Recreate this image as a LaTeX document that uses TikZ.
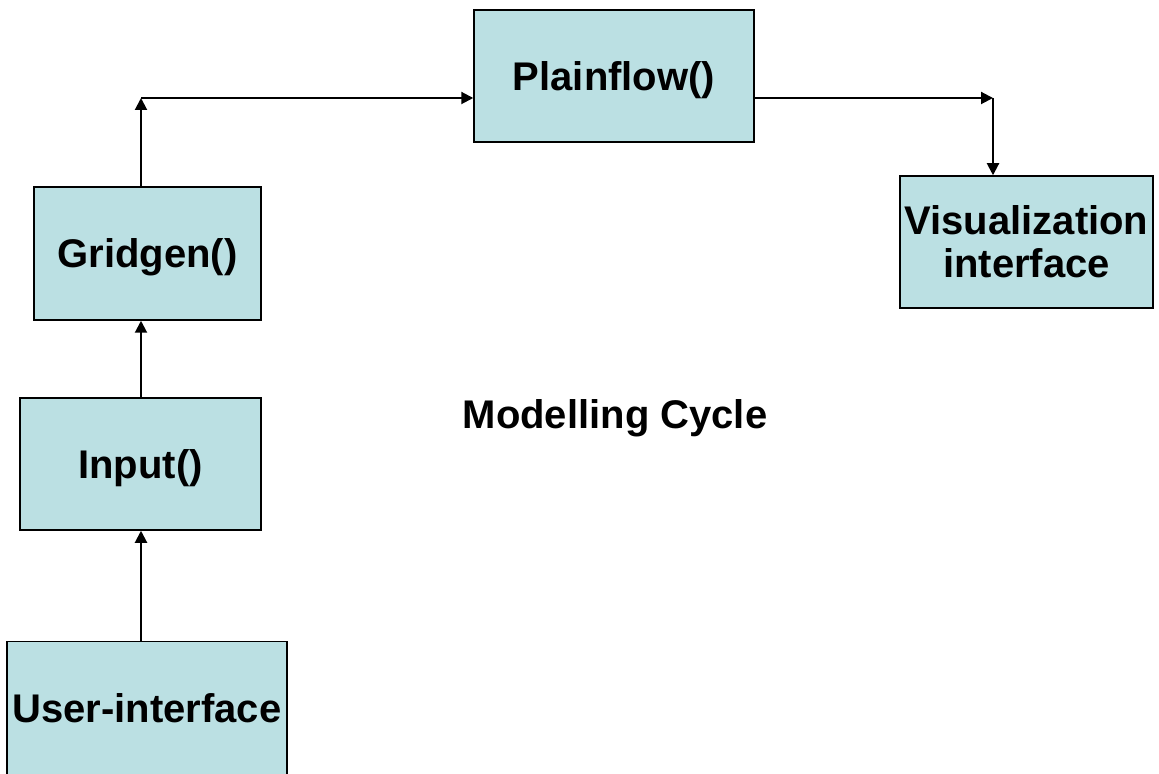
\documentclass[tikz,border=0pt]{standalone}
\usepackage{fontspec}
\setmainfont{Liberation Sans}
\usetikzlibrary{arrows.meta}
\definecolor{boxcyan}{HTML}{BBE0E3}

\begin{document}
\begin{tikzpicture}[x=0.5pt,y=-0.5pt,
  words/.style={font=\fontsize{20}{21}\selectfont\bfseries},
  one line/.style={text height=18.4pt, text depth=4pt},
  block/.style={words, draw=black, line width=0.75pt, fill=boxcyan,
    inner sep=0pt, align=center},
  link/.style={line width=1pt, -{Triangle[length=6pt,width=6pt]}}]
\useasboundingbox (0,0) rectangle (1159,774);
\clip (0,0) rectangle (1159,774);

% the stages
\node[block, one line, minimum width=140pt, minimum height=66pt] (plain) at (614,76) {Plainflow()};
\node[block, one line, minimum width=113.5pt, minimum height=66.5pt] (grid) at (147.5,253.5) {Gridgen()};
\node[block, minimum width=126.5pt, minimum height=66pt] (vis) at (1026.5,242) {Visualization\\[0.5pt]interface};
\node[block, one line, minimum width=120.5pt, minimum height=66pt] (inp) at (140.5,464) {Input()};
\node[block, one line, minimum width=140pt, minimum height=67pt] (ui) at (147,708.5) {User-interface};

\node[words, one line, inner sep=0pt] (title) at (615,414) {Modelling Cycle};

% elbows of the top links
\coordinate (cornerL) at (141,98);
\coordinate (cornerR) at (993,98);

\draw[link] (ui.north -| cornerL) -- (inp.south -| cornerL);
\draw[link] (inp.north -| cornerL) -- (grid.south -| cornerL);
\draw[link] (grid.north -| cornerL) -- (cornerL);
\draw[link] (cornerL) -- (cornerL -| plain.west);
\draw[link] (plain.east |- cornerR) -- (cornerR);
\draw[link] (cornerR) -- (vis.north -| cornerR);
\end{tikzpicture}
\end{document}
